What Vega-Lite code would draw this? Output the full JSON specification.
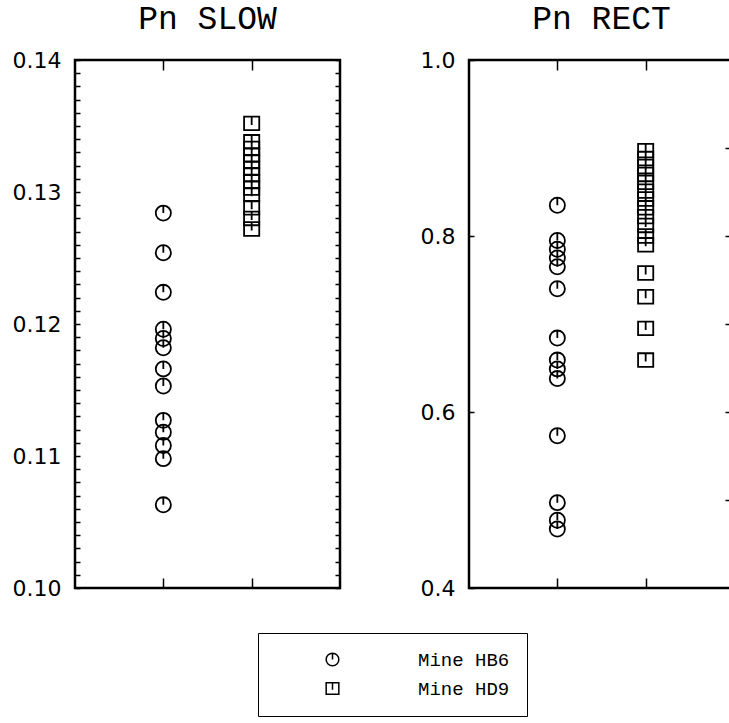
{
  "$schema": "https://vega.github.io/schema/vega-lite/v6.json",
  "background": "white",
  "padding": {"left": 10, "top": 1, "right": 0, "bottom": 3},
  "config": {
    "view": {"stroke": "black", "strokeWidth": 2.5},
    "axis": {"domain": false, "grid": false, "tickColor": "black", "tickWidth": 1.5, "labelColor": "black", "labelFont": "DejaVu Sans", "labelFontSize": 22, "title": null},
    "title": {"font": "Liberation Mono", "fontSize": 33, "fontWeight": "normal", "color": "black", "offset": 13},
    "legend": {"orient": "none", "legendX": 183, "legendY": 573, "direction": "vertical", "strokeColor": "black", "padding": 17, "symbolOffset": 48, "labelOffset": 76, "labelFont": "Liberation Mono", "labelFontSize": 19, "labelColor": "black", "rowPadding": 9, "symbolSize": 160, "symbolStrokeColor": "black", "symbolStrokeWidth": 1.5, "title": null}
  },
  "datasets": {
    "pts": [
      {"panel": "SLOW", "mine": "Mine HB6", "value": 0.1284},
      {"panel": "SLOW", "mine": "Mine HB6", "value": 0.1254},
      {"panel": "SLOW", "mine": "Mine HB6", "value": 0.1224},
      {"panel": "SLOW", "mine": "Mine HB6", "value": 0.1196},
      {"panel": "SLOW", "mine": "Mine HB6", "value": 0.1189},
      {"panel": "SLOW", "mine": "Mine HB6", "value": 0.1182},
      {"panel": "SLOW", "mine": "Mine HB6", "value": 0.1166},
      {"panel": "SLOW", "mine": "Mine HB6", "value": 0.1153},
      {"panel": "SLOW", "mine": "Mine HB6", "value": 0.1127},
      {"panel": "SLOW", "mine": "Mine HB6", "value": 0.1118},
      {"panel": "SLOW", "mine": "Mine HB6", "value": 0.1108},
      {"panel": "SLOW", "mine": "Mine HB6", "value": 0.1098},
      {"panel": "SLOW", "mine": "Mine HB6", "value": 0.1063},
      {"panel": "SLOW", "mine": "Mine HD9", "value": 0.1352},
      {"panel": "SLOW", "mine": "Mine HD9", "value": 0.1338},
      {"panel": "SLOW", "mine": "Mine HD9", "value": 0.1333},
      {"panel": "SLOW", "mine": "Mine HD9", "value": 0.1328},
      {"panel": "SLOW", "mine": "Mine HD9", "value": 0.1323},
      {"panel": "SLOW", "mine": "Mine HD9", "value": 0.1318},
      {"panel": "SLOW", "mine": "Mine HD9", "value": 0.1313},
      {"panel": "SLOW", "mine": "Mine HD9", "value": 0.1308},
      {"panel": "SLOW", "mine": "Mine HD9", "value": 0.1303},
      {"panel": "SLOW", "mine": "Mine HD9", "value": 0.1298},
      {"panel": "SLOW", "mine": "Mine HD9", "value": 0.1288},
      {"panel": "SLOW", "mine": "Mine HD9", "value": 0.1280},
      {"panel": "SLOW", "mine": "Mine HD9", "value": 0.1272},
      {"panel": "RECT", "mine": "Mine HB6", "value": 0.835},
      {"panel": "RECT", "mine": "Mine HB6", "value": 0.795},
      {"panel": "RECT", "mine": "Mine HB6", "value": 0.785},
      {"panel": "RECT", "mine": "Mine HB6", "value": 0.775},
      {"panel": "RECT", "mine": "Mine HB6", "value": 0.765},
      {"panel": "RECT", "mine": "Mine HB6", "value": 0.740},
      {"panel": "RECT", "mine": "Mine HB6", "value": 0.684},
      {"panel": "RECT", "mine": "Mine HB6", "value": 0.659},
      {"panel": "RECT", "mine": "Mine HB6", "value": 0.649},
      {"panel": "RECT", "mine": "Mine HB6", "value": 0.638},
      {"panel": "RECT", "mine": "Mine HB6", "value": 0.573},
      {"panel": "RECT", "mine": "Mine HB6", "value": 0.497},
      {"panel": "RECT", "mine": "Mine HB6", "value": 0.477},
      {"panel": "RECT", "mine": "Mine HB6", "value": 0.467},
      {"panel": "RECT", "mine": "Mine HD9", "value": 0.897},
      {"panel": "RECT", "mine": "Mine HD9", "value": 0.888},
      {"panel": "RECT", "mine": "Mine HD9", "value": 0.879},
      {"panel": "RECT", "mine": "Mine HD9", "value": 0.870},
      {"panel": "RECT", "mine": "Mine HD9", "value": 0.861},
      {"panel": "RECT", "mine": "Mine HD9", "value": 0.851},
      {"panel": "RECT", "mine": "Mine HD9", "value": 0.842},
      {"panel": "RECT", "mine": "Mine HD9", "value": 0.832},
      {"panel": "RECT", "mine": "Mine HD9", "value": 0.822},
      {"panel": "RECT", "mine": "Mine HD9", "value": 0.812},
      {"panel": "RECT", "mine": "Mine HD9", "value": 0.800},
      {"panel": "RECT", "mine": "Mine HD9", "value": 0.790},
      {"panel": "RECT", "mine": "Mine HD9", "value": 0.758},
      {"panel": "RECT", "mine": "Mine HD9", "value": 0.731},
      {"panel": "RECT", "mine": "Mine HD9", "value": 0.695},
      {"panel": "RECT", "mine": "Mine HD9", "value": 0.659}
    ]
  },
  "spacing": 76,
  "resolve": {"scale": {"x": "independent", "y": "independent", "shape": "shared"}},
  "hconcat": [
    {
      "width": 265,
      "height": 528,
      "title": {"text": "Pn SLOW"},
      "data": {"name": "pts"},
      "transform": [{"filter": "datum.panel === 'SLOW'"}],
      "layer": [
        {
          "mark": {"type": "point", "filled": false, "stroke": "black", "strokeWidth": 1.8, "size": 230, "opacity": 1},
          "encoding": {
            "x": {"field": "mine", "type": "nominal", "scale": {"type": "point", "padding": 1, "domain": ["Mine HB6", "Mine HD9"]}, "axis": {"orient": "bottom", "labels": false, "tickSize": -10}},
            "y": {"field": "value", "type": "quantitative", "scale": {"domain": [0.10, 0.14], "nice": false, "zero": false}, "axis": {"orient": "left", "values": [0.100, 0.101, 0.102, 0.103, 0.104, 0.105, 0.106, 0.107, 0.108, 0.109, 0.110, 0.111, 0.112, 0.113, 0.114, 0.115, 0.116, 0.117, 0.118, 0.119, 0.120, 0.121, 0.122, 0.123, 0.124, 0.125, 0.126, 0.127, 0.128, 0.129, 0.130, 0.131, 0.132, 0.133, 0.134, 0.135, 0.136, 0.137, 0.138, 0.139, 0.140], "labelExpr": "abs(datum.value*100 - round(datum.value*100)) < 0.01 ? format(datum.value, '.2f') : ''", "tickSize": -5, "labelPadding": 19}},
            "shape": {"field": "mine", "type": "nominal", "scale": {"domain": ["Mine HB6", "Mine HD9"], "range": ["M0,-1A1,1 0 1,1 0,1A1,1 0 1,1 0,-1M0,-1L0,0", "M-1,-0.9L1,-0.9L1,0.9L-1,0.9ZM0,-0.9L0,0.2"]}}
          }
        },
        {
          "mark": {"type": "point", "opacity": 0},
          "encoding": {
            "x": {"field": "mine", "type": "nominal", "scale": {"type": "point", "padding": 1, "domain": ["Mine HB6", "Mine HD9"]}, "axis": {"orient": "top", "labels": false, "tickSize": -10}},
            "y": {"field": "value", "type": "quantitative", "scale": {"domain": [0.10, 0.14], "nice": false, "zero": false}, "axis": {"orient": "right", "labels": false, "values": [0.100, 0.101, 0.102, 0.103, 0.104, 0.105, 0.106, 0.107, 0.108, 0.109, 0.110, 0.111, 0.112, 0.113, 0.114, 0.115, 0.116, 0.117, 0.118, 0.119, 0.120, 0.121, 0.122, 0.123, 0.124, 0.125, 0.126, 0.127, 0.128, 0.129, 0.130, 0.131, 0.132, 0.133, 0.134, 0.135, 0.136, 0.137, 0.138, 0.139, 0.140], "tickSize": -5}}
          }
        }
      ],
      "resolve": {"axis": {"x": "independent", "y": "independent"}}
    },
    {
      "width": 265,
      "height": 528,
      "title": {"text": "Pn RECT"},
      "data": {"name": "pts"},
      "transform": [{"filter": "datum.panel === 'RECT'"}],
      "layer": [
        {
          "mark": {"type": "point", "filled": false, "stroke": "black", "strokeWidth": 1.8, "size": 230, "opacity": 1},
          "encoding": {
            "x": {"field": "mine", "type": "nominal", "scale": {"type": "point", "padding": 1, "domain": ["Mine HB6", "Mine HD9"]}, "axis": {"orient": "bottom", "labels": false, "tickSize": -10}},
            "y": {"field": "value", "type": "quantitative", "scale": {"domain": [0.4, 1.0], "nice": false, "zero": false}, "axis": {"orient": "left", "values": [0.4, 0.6, 0.8, 1.0], "format": ".1f", "tickSize": -5, "labelPadding": 19}},
            "shape": {"field": "mine", "type": "nominal", "scale": {"domain": ["Mine HB6", "Mine HD9"], "range": ["M0,-1A1,1 0 1,1 0,1A1,1 0 1,1 0,-1M0,-1L0,0", "M-1,-0.9L1,-0.9L1,0.9L-1,0.9ZM0,-0.9L0,0.2"]}}
          }
        },
        {
          "mark": {"type": "point", "opacity": 0},
          "encoding": {
            "x": {"field": "mine", "type": "nominal", "scale": {"type": "point", "padding": 1, "domain": ["Mine HB6", "Mine HD9"]}, "axis": {"orient": "top", "labels": false, "tickSize": -10}},
            "y": {"field": "value", "type": "quantitative", "scale": {"domain": [0.4, 1.0], "nice": false, "zero": false}, "axis": {"orient": "right", "labels": false, "values": [0.5, 0.6, 0.7, 0.8, 0.9], "tickSize": -9}}
          }
        }
      ],
      "resolve": {"axis": {"x": "independent", "y": "independent"}}
    }
  ]
}
